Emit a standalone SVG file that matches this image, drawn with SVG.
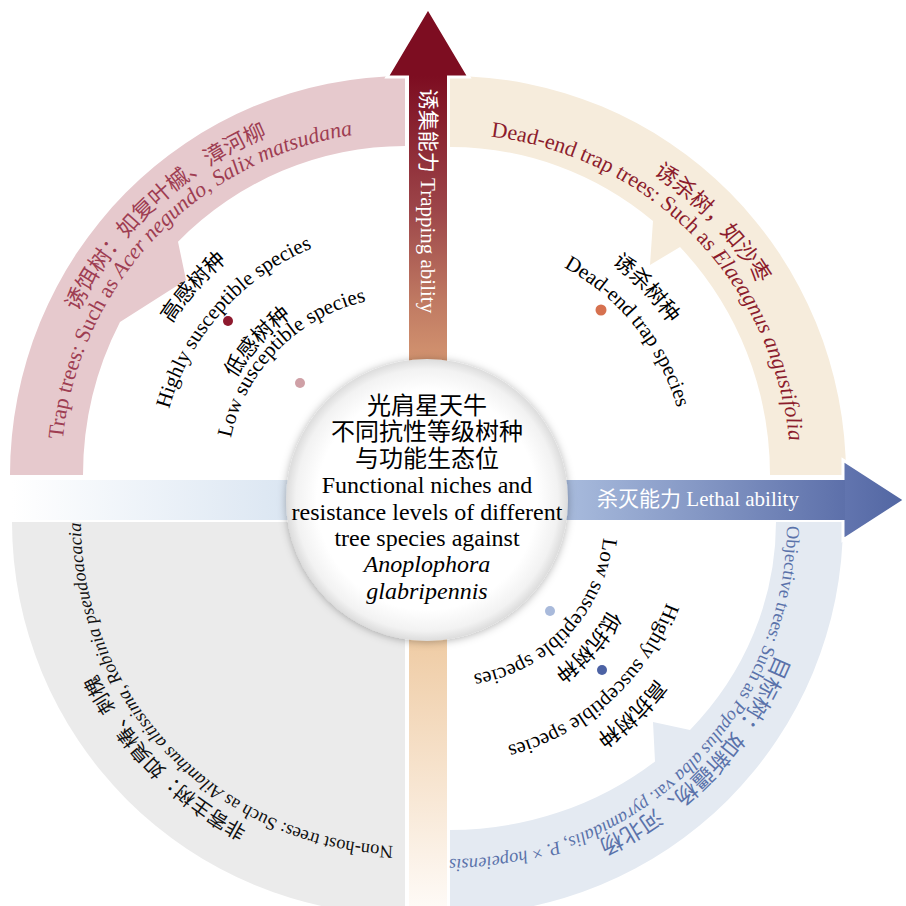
<svg xmlns="http://www.w3.org/2000/svg" xmlns:xlink="http://www.w3.org/1999/xlink" width="906" height="906" viewBox="0 0 906 906">
  <style>
    .t{font-family:"Liberation Serif","Noto Sans CJK SC",serif;text-anchor:middle}
    .i{font-style:italic}
    .pk{fill:#9e3d52;font-size:22px}
    .be{fill:#8c1c2c;font-size:22px}
    .gy{fill:#111;font-size:18.5px}
    .bl{fill:#5a72aa;font-size:18.5px}
    .lb{fill:#000;font-size:21px}
    .ax{fill:#fff;font-size:21px}
    .ct{fill:#000;font-size:24px}
    .cjk20{font-size:20px}
    .cjk22{font-size:22px}
  </style>
  <defs>
    <!-- arcs centred on the origin, symmetric about the top (angle -90deg), for text on a circle -->
    <path id="a365" d="M-359.5,-63.4 A365,365 0 0 1 359.5,-63.4"/>
    <path id="a363" d="M-357.5,-63 A363,363 0 0 1 357.5,-63"/>
    <path id="a352" d="M-346.7,-61.1 A352,352 0 0 1 346.7,-61.1"/>
    <path id="a344" d="M-338.8,-59.7 A344,344 0 0 1 338.8,-59.7"/>
    <path id="a341" d="M-335.8,-59.2 A341,341 0 0 1 335.8,-59.2"/>
    <path id="a337" d="M-331.9,-58.5 A337,337 0 0 1 331.9,-58.5"/>
    <path id="a324" d="M-319.1,-56.2 A324,324 0 0 1 319.1,-56.2"/>
    <path id="a278" d="M-273.8,-48.3 A278,278 0 0 1 273.8,-48.3"/>
    <path id="a266" d="M-262,-46.2 A266,266 0 0 1 262,-46.2"/>
    <path id="a259" d="M-255.1,-45 A259,259 0 0 1 255.1,-45"/>
    <path id="a245" d="M-241.3,-42.5 A245,245 0 0 1 241.3,-42.5"/>
    <path id="a237" d="M-233.4,-41.1 A237,237 0 0 1 233.4,-41.1"/>
    <path id="a231" d="M-227.5,-40.1 A231,231 0 0 1 227.5,-40.1"/>
    <path id="a195" d="M-192,-33.9 A195,195 0 0 1 192,-33.9"/>
    <path id="a182" d="M-179.2,-31.6 A182,182 0 0 1 179.2,-31.6"/>
    <path id="a178" d="M-175.3,-30.9 A178,178 0 0 1 175.3,-30.9"/>
    <path id="a154" d="M-151.7,-26.7 A154,154 0 0 1 151.7,-26.7"/>

    <linearGradient id="gUp" gradientUnits="userSpaceOnUse" x1="0" y1="76" x2="0" y2="906">
      <stop offset="0" stop-color="#7d0d21"/>
      <stop offset="0.16" stop-color="#9c4549"/>
      <stop offset="0.27" stop-color="#bf7962"/>
      <stop offset="0.345" stop-color="#d39470"/>
      <stop offset="0.68" stop-color="#efcca5"/>
      <stop offset="1" stop-color="#fefaf6"/>
    </linearGradient>
    <linearGradient id="gRight" gradientUnits="userSpaceOnUse" x1="12" y1="0" x2="845" y2="0">
      <stop offset="0" stop-color="#ffffff"/>
      <stop offset="0.33" stop-color="#dbe6f2"/>
      <stop offset="0.67" stop-color="#a7badc"/>
      <stop offset="1" stop-color="#5d70aa"/>
    </linearGradient>
    <linearGradient id="gHeadR" x1="0" y1="0" x2="1" y2="0">
      <stop offset="0" stop-color="#6275af"/>
      <stop offset="1" stop-color="#5266a2"/>
    </linearGradient>
    <radialGradient id="gHub" cx="50%" cy="50%" r="50%">
      <stop offset="0" stop-color="#ffffff"/>
      <stop offset="0.78" stop-color="#ffffff"/>
      <stop offset="0.93" stop-color="#f2f2f2"/>
      <stop offset="1" stop-color="#dcdcdc"/>
    </radialGradient>
    <filter id="shadow" x="-20%" y="-20%" width="140%" height="140%">
      <feDropShadow dx="0" dy="1" stdDeviation="4" flood-color="#000" flood-opacity="0.3"/>
    </filter>
  </defs>

  <rect width="906" height="906" fill="#fff"/>

  <!-- quadrant: trap trees -->
  <g id="q-trap">
    <path d="M10,475 A395,399 0 0 1 405,76 L405,146 A322,329 0 0 0 178,241.7 L186,280 L120,322 A322,329 0 0 0 83,475 Z" fill="#e6c9cd"/>
    <g transform="translate(405,475) rotate(317.2)"><text class="t pk"><textPath xlink:href="#a365" startOffset="50%">诱饵树：如复叶槭、漳河柳</textPath></text></g>
    <g transform="translate(405,475) rotate(313.6)"><text class="t pk"><textPath xlink:href="#a344" startOffset="50%">Trap trees: Such as <tspan class="i">Acer negundo</tspan>, <tspan class="i">Salix matsudana</tspan></textPath></text></g>
    <g transform="translate(405,475) rotate(311.6)"><text class="t lb"><textPath xlink:href="#a278" startOffset="50%">高感树种</textPath></text></g>
    <g transform="translate(405,475) rotate(311.7)"><text class="t lb"><textPath xlink:href="#a245" startOffset="50%">Highly susceptible species</textPath></text></g>
    <g transform="translate(405,475) rotate(312)"><text class="t lb"><textPath xlink:href="#a195" startOffset="50%">低感树种</textPath></text></g>
    <g transform="translate(405,475) rotate(314.7)"><text class="t lb"><textPath xlink:href="#a178" startOffset="50%">Low susceptible species</textPath></text></g>
    <circle cx="228" cy="321" r="5" fill="#8e1a2e"/>
    <circle cx="300" cy="383" r="5" fill="#cfa0a6"/>
  </g>

  <!-- quadrant: dead-end trap trees -->
  <g id="q-deadend">
    <path d="M450,76 A396,399 0 0 1 846,475 L770,475 A320,328 0 0 0 680,247 L650,265 L653,221 A320,328 0 0 0 450,147 Z" fill="#f6ecdc"/>
    <g transform="translate(450,475) rotate(46.2)"><text class="t be"><textPath xlink:href="#a363" startOffset="50%">诱杀树，如沙枣</textPath></text></g>
    <g transform="translate(450,475) rotate(45.6)"><text class="t be"><textPath xlink:href="#a341" startOffset="50%">Dead-end trap trees: Such as <tspan class="i">Elaeagnus angustifolia</tspan></textPath></text></g>
    <g transform="translate(450,475) rotate(46.4)"><text class="t lb"><textPath xlink:href="#a266" startOffset="50%">诱杀树种</textPath></text></g>
    <g transform="translate(450,475) rotate(51.1)"><text class="t lb"><textPath xlink:href="#a237" startOffset="50%">Dead-end trap species</textPath></text></g>
    <circle cx="601" cy="310" r="5.5" fill="#d6714f"/>
  </g>

  <!-- quadrant: non-host trees -->
  <g id="q-nonhost">
    <path d="M405,522 L12,522 A393,393 0 0 0 405,915 Z" fill="#ebebeb"/>
    <g transform="translate(405,522) rotate(225.5)"><text class="t gy cjk20"><textPath xlink:href="#a344" startOffset="50%">非寄主树：如臭椿、刺槐</textPath></text></g>
    <g transform="translate(405,522) rotate(226)"><text class="t gy"><textPath xlink:href="#a324" startOffset="50%">Non-host trees: Such as <tspan class="i">Ailanthus altissima</tspan>, <tspan class="i">Robinia pseudoacacia</tspan></textPath></text></g>
  </g>

  <!-- quadrant: objective trees -->
  <g id="q-objective">
    <path d="M843,522 A393,393 0 0 1 450,915 L450,830 A326,308 0 0 0 655,761.5 L653,722 L690,730 A326,308 0 0 0 776,522 Z" fill="#e4eaf2"/>
    <g transform="translate(450,522) rotate(133.6)"><text class="t bl cjk22"><textPath xlink:href="#a352" startOffset="50%">目标树：如新疆杨、河北杨</textPath></text></g>
    <g transform="translate(450,522) rotate(135.4)"><text class="t bl"><textPath xlink:href="#a337" startOffset="50%">Objective trees: Such as <tspan class="i">Populus alba</tspan> var. <tspan class="i">pyramidalis</tspan>, <tspan class="i">P.</tspan> × <tspan class="i">hopeiensis</tspan></textPath></text></g>
    <g transform="translate(450,522) rotate(132)"><text class="t lb"><textPath xlink:href="#a182" startOffset="50%">低抗树种</textPath></text></g>
    <g transform="translate(450,522) rotate(133.6)"><text class="t lb"><textPath xlink:href="#a154" startOffset="50%">Low susceptible species</textPath></text></g>
    <g transform="translate(450,522) rotate(136.5)"><text class="t lb"><textPath xlink:href="#a259" startOffset="50%">高抗树种</textPath></text></g>
    <g transform="translate(450,522) rotate(138)"><text class="t lb"><textPath xlink:href="#a231" startOffset="50%">Highly susceptible species</textPath></text></g>
    <circle cx="550" cy="611" r="5" fill="#a9badb"/>
    <circle cx="602" cy="670" r="5" fill="#4c62a4"/>
  </g>

  <!-- axes drawn as arrows -->
  <g id="connectors">
    <g id="axis-trapping">
      <polygon points="428,8 469,77 387,77" fill="#7d0d21" stroke="#fff" stroke-width="3" stroke-linejoin="miter"/>
      <rect x="409" y="75" width="38" height="831" fill="url(#gUp)"/>
      <text class="t ax" transform="translate(428,201) rotate(90)" y="7">诱集能力 Trapping ability</text>
    </g>
    <g id="axis-lethal">
      <polygon points="843,460 905,500 843,540" fill="url(#gHeadR)" stroke="#fff" stroke-width="3" stroke-linejoin="miter"/>
      <rect x="12" y="480" width="833" height="40" fill="url(#gRight)"/>
      <text class="t ax" x="698" y="506">杀灭能力 Lethal ability</text>
    </g>
  </g>

  <!-- central hub -->
  <g id="center">
    <circle cx="427" cy="500" r="141" fill="url(#gHub)" filter="url(#shadow)"/>
    <text class="t ct" x="427" y="414">光肩星天牛</text>
    <text class="t ct" x="427" y="440.4">不同抗性等级树种</text>
    <text class="t ct" x="427" y="466.8">与功能生态位</text>
    <text class="t ct" x="427" y="493.2">Functional niches and</text>
    <text class="t ct" x="427" y="519.6">resistance levels of different</text>
    <text class="t ct" x="427" y="546">tree species against</text>
    <text class="t ct i" x="427" y="572.4">Anoplophora</text>
    <text class="t ct i" x="427" y="598.8">glabripennis</text>
  </g>
</svg>
